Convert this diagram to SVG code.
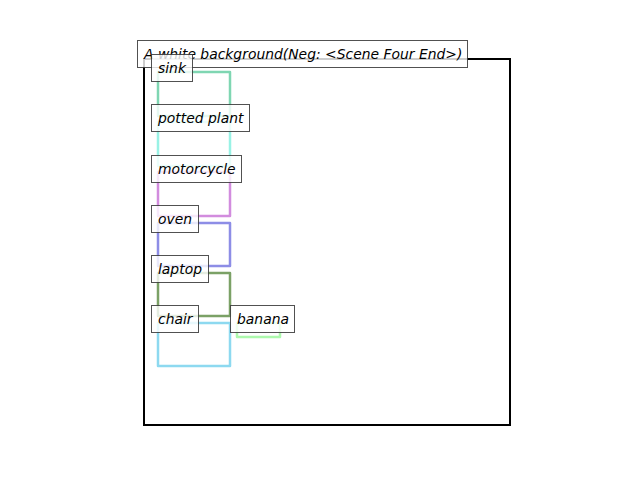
<svg xmlns="http://www.w3.org/2000/svg" width="640" height="480" viewBox="0 0 640 480">
<style>
.bb{fill:none;stroke-width:2.5;stroke-linejoin:round;stroke-opacity:0.8}
.lb rect{fill:#fff;fill-opacity:0.8;stroke:#333;stroke-opacity:0.85;stroke-width:1}
.lb text{font-family:"DejaVu Sans",sans-serif;font-style:italic;font-size:13.9px;fill:#000}
</style>
<rect x="0" y="0" width="640" height="480" fill="#fff"/>
<rect id="frame" x="144" y="59" width="366" height="366" fill="none" stroke="#000" stroke-width="2"/>
<g id="connectors">
<rect class="bb" x="158" y="72" width="72" height="44" stroke="#5fcc9f"/>
<rect class="bb" x="158" y="122" width="72" height="44" stroke="#7fefdf"/>
<rect class="bb" x="158" y="172" width="72" height="44" stroke="#c76fd6"/>
<rect class="bb" x="158" y="223" width="72" height="43" stroke="#7070e0"/>
<rect class="bb" x="158" y="273" width="72" height="43" stroke="#5a8a40"/>
<rect class="bb" x="158" y="323" width="72" height="43" stroke="#70d0ec"/>
<rect class="bb" x="237" y="323" width="43" height="14" stroke="#98f898"/>
</g>
<g id="title" class="lb"><rect x="137.5" y="40.5" width="330" height="27"/><text x="144" y="58.5">A white background(Neg: &lt;Scene Four End&gt;)</text></g>
<g id="sink" class="lb"><rect x="151.5" y="54.5" width="41" height="27"/><text x="158" y="72.5">sink</text></g>
<g id="potted-plant" class="lb"><rect x="151.5" y="104.5" width="98" height="27"/><text x="158" y="122.5">potted plant</text></g>
<g id="motorcycle" class="lb"><rect x="151.5" y="155.5" width="90" height="27"/><text x="158" y="173.5">motorcycle</text></g>
<g id="oven" class="lb"><rect x="151.5" y="205.5" width="47" height="27"/><text x="158" y="223.5">oven</text></g>
<g id="laptop" class="lb"><rect x="151.5" y="255.5" width="57" height="27"/><text x="158" y="273.5">laptop</text></g>
<g id="chair" class="lb"><rect x="151.5" y="305.5" width="47" height="27"/><text x="158" y="323.5">chair</text></g>
<g id="banana" class="lb"><rect x="230.5" y="305.5" width="64" height="27"/><text x="237" y="323.5">banana</text></g>
</svg>
